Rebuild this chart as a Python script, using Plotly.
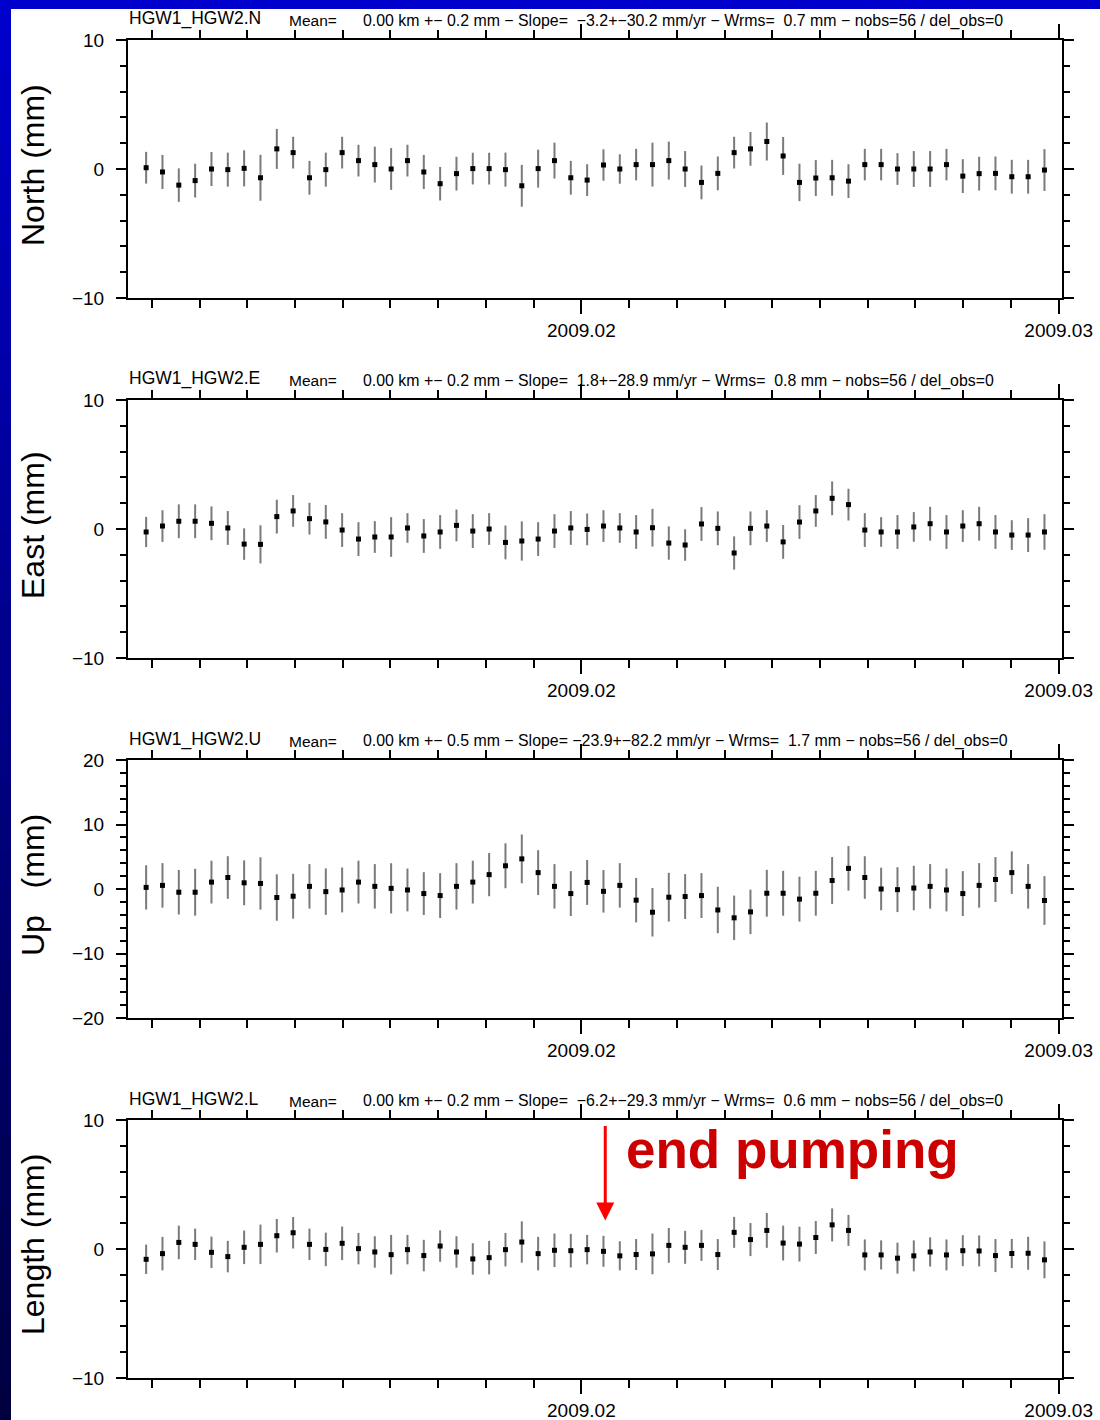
import plotly.graph_objects as go

W, H = 1100, 1420

# ---- sampling: 56 three-hourly baseline solutions (decimal years) ----
START_YEAR = 2009.01088
STEP_HOURS = 3
N_OBS = 56
HOURS_PER_YEAR = 24 * 365.25
epochs = [START_YEAR + i * STEP_HOURS / HOURS_PER_YEAR for i in range(N_OBS)]

# ---- baseline HGW1_HGW2 residual components (mm) and 1-sigma (mm) ----
north = [0.10, -0.23, -1.25, -0.90, 0.00, -0.05, 0.05, -0.68, 1.56, 1.27,
         -0.68, -0.05, 1.27, 0.65, 0.34, 0.00, 0.65, -0.23, -1.14, -0.36,
         0.03, 0.03, -0.05, -1.30, 0.03, 0.65, -0.68, -0.86,
         0.31, 0.00, 0.34, 0.34, 0.65, 0.00, -1.04, -0.34, 1.27, 1.56,
         2.13, 1.01, -1.04, -0.70, -0.68, -0.94, 0.34, 0.34, 0.00, 0.00,
         0.00, 0.34, -0.55, -0.36, -0.34, -0.60, -0.60, -0.08]
north_sig = [1.23, 1.32, 1.30, 1.31, 1.32, 1.32, 1.40, 1.78, 1.55, 1.23,
             1.31, 1.32, 1.23, 1.23, 1.39, 1.62, 1.23, 1.32, 1.30, 1.31,
             1.23, 1.23, 1.32, 1.62, 1.47, 1.39, 1.31, 1.23,
             1.22, 1.14, 1.22, 1.70, 1.47, 1.39, 1.31, 1.31, 1.23, 1.31,
             1.47, 1.47, 1.45, 1.39, 1.39, 1.31, 1.22, 1.22, 1.23, 1.39,
             1.39, 1.22, 1.31, 1.31, 1.31, 1.31, 1.31, 1.62]

east = [-0.23, 0.23, 0.60, 0.60, 0.44, 0.08, -1.17, -1.19, 0.96, 1.40,
        0.80, 0.55, -0.08, -0.78, -0.62, -0.62, 0.08, -0.54, -0.23, 0.28,
        -0.16, 0.00, -1.04, -0.93, -0.78, -0.16, 0.08, -0.03,
        0.23, 0.08, -0.23, 0.10, -1.09, -1.24, 0.39, 0.05, -1.86, 0.05,
        0.23, -1.00, 0.54, 1.40, 2.38, 1.89, -0.08, -0.23, -0.23, 0.16,
        0.41, -0.23, 0.23, 0.41, -0.23, -0.47, -0.47, -0.23]
east_sig = [1.17, 1.23, 1.31, 1.31, 1.31, 1.31, 1.22, 1.48, 1.31, 1.23,
            1.23, 1.31, 1.31, 1.31, 1.23, 1.54, 1.15, 1.31, 1.31, 1.23,
            1.31, 1.23, 1.31, 1.52, 1.31, 1.31, 1.31, 1.23,
            1.23, 1.15, 1.31, 1.46, 1.29, 1.22, 1.31, 1.31, 1.29, 1.31,
            1.23, 1.31, 1.31, 1.23, 1.31, 1.23, 1.31, 1.15, 1.31, 1.15,
            1.31, 1.31, 1.23, 1.31, 1.31, 1.15, 1.31, 1.38]

up = [0.25, 0.56, -0.50, -0.50, 1.07, 1.78, 0.96, 0.86, -1.32, -1.12,
      0.41, -0.41, -0.15, 1.07, 0.41, 0.10, -0.15, -0.71, -1.02, 0.41,
      1.07, 2.23, 3.60, 4.67, 2.54, 0.41, -0.71, 1.02,
      -0.36, 0.56, -1.73, -3.60, -1.27, -1.17, -1.02, -3.25, -4.47, -3.55,
      -0.66, -0.66, -1.57, -0.66, 1.32, 3.20, 1.78, 0.00, -0.10, 0.15,
      0.41, -0.15, -0.71, 0.56, 1.47, 2.54, 0.41, -1.78]
up_sig = [3.43, 3.45, 3.45, 3.63, 3.32, 3.30, 3.48, 4.06, 3.60, 3.48,
          3.45, 3.60, 3.48, 3.32, 3.45, 3.90, 3.32, 3.32, 3.48, 3.60,
          3.32, 3.35, 3.48, 3.78, 3.48, 3.45, 3.48, 3.48,
          3.30, 3.45, 3.45, 3.76, 3.78, 3.48, 3.48, 3.60, 3.45, 3.45,
          3.63, 3.48, 3.48, 3.48, 3.63, 3.45, 3.30, 3.30, 3.48, 3.45,
          3.45, 3.32, 3.48, 3.45, 3.48, 3.30, 3.45, 3.78]

length = [-0.80, -0.36, 0.51, 0.36, -0.26, -0.59, 0.13, 0.36, 1.03, 1.26,
          0.36, -0.03, 0.44, 0.03, -0.23, -0.44, -0.05, -0.51, 0.23, -0.23,
          -0.77, -0.67, -0.05, 0.54, -0.36, -0.10, -0.13, -0.05,
          -0.18, -0.53, -0.43, -0.38, 0.28, 0.13, 0.28, -0.43, 1.29, 0.73,
          1.44, 0.46, 0.38, 0.89, 1.87, 1.44, -0.46, -0.46, -0.71, -0.53,
          -0.23, -0.46, -0.13, -0.15, -0.51, -0.35, -0.33, -0.84]
length_sig = [1.14, 1.30, 1.30, 1.22, 1.22, 1.22, 1.30, 1.53, 1.30, 1.22,
              1.22, 1.30, 1.30, 1.22, 1.22, 1.53, 1.14, 1.22, 1.22, 1.22,
              1.22, 1.30, 1.30, 1.60, 1.30, 1.30, 1.30, 1.14,
              1.20, 1.13, 1.20, 1.58, 1.35, 1.28, 1.20, 1.20, 1.20, 1.28,
              1.35, 1.35, 1.35, 1.28, 1.28, 1.20, 1.20, 1.13, 1.20, 1.20,
              1.13, 1.20, 1.20, 1.20, 1.28, 1.13, 1.28, 1.43]

# ---- panel texts ----
panel_names = ["HGW1_HGW2.N", "HGW1_HGW2.E", "HGW1_HGW2.U", "HGW1_HGW2.L"]
panel_ylabels = ["North (mm)", "East (mm)", "Up\u00a0\u00a0\u00a0(mm)", "Length (mm)"]
panel_stats = [
    "0.00 km +\u2212 0.2 mm \u2212 Slope=  \u22123.2+\u221230.2 mm/yr \u2212 Wrms=  0.7 mm \u2212 nobs=56 / del_obs=0",
    "0.00 km +\u2212 0.2 mm \u2212 Slope=  1.8+\u221228.9 mm/yr \u2212 Wrms=  0.8 mm \u2212 nobs=56 / del_obs=0",
    "0.00 km +\u2212 0.5 mm \u2212 Slope= \u221223.9+\u221282.2 mm/yr \u2212 Wrms=  1.7 mm \u2212 nobs=56 / del_obs=0",
    "0.00 km +\u2212 0.2 mm \u2212 Slope=  \u22126.2+\u221229.3 mm/yr \u2212 Wrms=  0.6 mm \u2212 nobs=56 / del_obs=0",
]
panel_ranges = [(-10, 10), (-10, 10), (-20, 20), (-10, 10)]
series = [(north, north_sig), (east, east_sig), (up, up_sig), (length, length_sig)]

X_MAJOR = [2009.02, 2009.03]
X_RANGE = (2009.0105, 2009.03007)
END_PUMPING_YEAR = 2009.0205

# ---- layout geometry (pixels) ----
PLOT_LEFT, PLOT_RIGHT = 128, 1062
PANEL_TOPS = [40, 400, 760, 1120]
PANEL_H = 258
FONT = "Liberation Sans, Arial, Helvetica, sans-serif"


def fx(px):
    return px / W


def fy(py):
    return 1 - py / H


fig = go.Figure()
layout = dict(
    width=W, height=H,
    margin=dict(l=0, r=0, t=0, b=0, pad=0),
    paper_bgcolor="white",
    plot_bgcolor="white",
    showlegend=False,
    font=dict(family=FONT, color="black"),
)

annotations = []
shapes = []

for k in range(4):
    sfx = "" if k == 0 else str(k + 1)
    vals, sig = series[k]
    fig.add_trace(go.Scatter(
        x=epochs, y=vals,
        mode="markers",
        marker=dict(symbol="square", size=5, color="black", line=dict(width=0)),
        error_y=dict(type="data", array=sig, visible=True, color="#7a7a7a",
                     thickness=2, width=0),
        xaxis="x" + sfx, yaxis="y" + sfx,
        hoverinfo="skip",
    ))
    top = PANEL_TOPS[k]
    bot = top + PANEL_H
    lo, hi = panel_ranges[k]
    layout["xaxis" + sfx] = dict(
        domain=[fx(PLOT_LEFT), fx(PLOT_RIGHT)],
        anchor="y" + sfx,
        automargin=False,
        range=list(X_RANGE),
        tickmode="array", tickvals=X_MAJOR,
        ticktext=["%.2f" % v for v in X_MAJOR],
        ticks="outside", ticklen=14, tickwidth=2, tickcolor="black",
        minor=dict(tick0=2009.02, dtick=0.001, ticks="outside", ticklen=8,
                   tickwidth=2, tickcolor="black"),
        showline=True, linewidth=2, linecolor="black", mirror="ticks",
        showgrid=False, zeroline=False,
        tickfont=dict(family=FONT, size=19, color="black"),
        ticklabelstandoff=0,
    )
    layout["yaxis" + sfx] = dict(
        domain=[fy(bot), fy(top)],
        anchor="x" + sfx,
        automargin=False,
        range=[lo, hi],
        tick0=0, dtick=10,
        ticks="outside", ticklen=10, tickwidth=2, tickcolor="black",
        minor=dict(tick0=0, dtick=2, ticks="outside", ticklen=6,
                   tickwidth=2, tickcolor="black"),
        showline=True, linewidth=2, linecolor="black", mirror="ticks",
        showgrid=False, zeroline=False,
        tickfont=dict(family=FONT, size=19, color="black"),
        ticklabelstandoff=8,
    )
    # header line above each panel
    annotations.append(dict(
        text=panel_names[k], x=fx(127), y=fy(top - 21), xref="paper", yref="paper",
        xanchor="left", yanchor="middle", showarrow=False,
        font=dict(family=FONT, size=17.5, color="black")))
    annotations.append(dict(
        text="Mean=", x=fx(287), y=fy(top - 19), xref="paper", yref="paper",
        xanchor="left", yanchor="middle", showarrow=False,
        font=dict(family=FONT, size=15.5, color="black")))
    annotations.append(dict(
        text=panel_stats[k], x=fx(361), y=fy(top - 19), xref="paper", yref="paper",
        xanchor="left", yanchor="middle", showarrow=False,
        font=dict(family=FONT, size=15.9, color="black")))
    # vertical axis title
    annotations.append(dict(
        text=panel_ylabels[k], x=fx(33), y=fy(top + PANEL_H / 2 - 4),
        xref="paper", yref="paper", textangle=-90,
        xanchor="center", yanchor="middle", showarrow=False,
        font=dict(family=FONT, size=32, color="black")))

# event marker on the length panel
annotations.append(dict(
    x=END_PUMPING_YEAR, y=2.2, xref="x4", yref="y4",
    ax=0, ay=-96, axref="pixel", ayref="pixel",
    text="", showarrow=True, arrowhead=2, arrowsize=1.2, arrowwidth=3,
    arrowcolor="#ff0000", standoff=0, startstandoff=0))
annotations.append(dict(
    text="<b>end pumping</b>", x=fx(624), y=fy(1149), xref="paper", yref="paper",
    xanchor="left", yanchor="middle", showarrow=False,
    font=dict(family=FONT, size=53, color="#cc0000")))

# slide background: blue band on top and a vertical blue gradient on the left
shapes.append(dict(type="rect", xref="paper", yref="paper",
                   x0=0, x1=1, y0=fy(9), y1=1, fillcolor="#0000cc",
                   line=dict(width=0), layer="below"))
N_BANDS = 40
c_top = (0, 0, 204)
c_bot = (0, 0, 64)
band = 1 / N_BANDS
for b in range(N_BANDS):
    f = b / (N_BANDS - 1)
    col = tuple(int(round(c_top[j] + (c_bot[j] - c_top[j]) * f)) for j in range(3))
    # bands overlap slightly so no seams show between them
    shapes.append(dict(type="rect", xref="paper", yref="paper",
                       x0=0, x1=fx(11),
                       y0=max(0, 1 - (b + 1) * band - 0.002), y1=1 - b * band,
                       fillcolor="rgb(%d,%d,%d)" % col,
                       line=dict(width=0), layer="below"))

layout["annotations"] = annotations
layout["shapes"] = shapes
fig.update_layout(**layout)

# fixed-size page: keep plotly from re-fitting the figure to the window
fig.write_html("out.html", config={"responsive": False})
